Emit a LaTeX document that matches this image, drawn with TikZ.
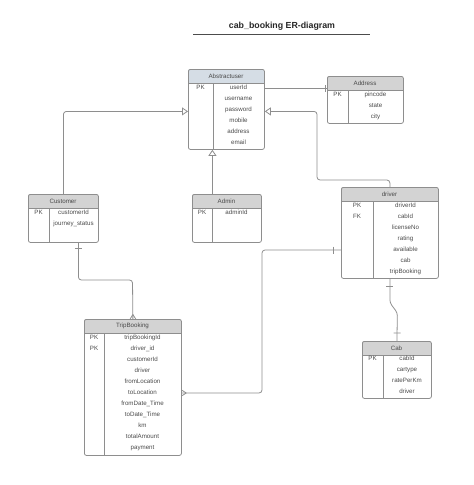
\documentclass[tikz,border=0pt]{standalone}
\usepackage{fontspec}
\setmainfont{Liberation Sans}
\usepackage{xcolor}
\usepackage{tikz}
\usetikzlibrary{calc, arrows.meta}
\usetikzlibrary{decorations.markings}
\definecolor{lnGray}{HTML}{8E8E8E}
\definecolor{txGray}{HTML}{4A4A4A}
\definecolor{hdGray}{HTML}{D3D3D3}
\definecolor{hdBlue}{HTML}{D5DDE5}
\tikzset{
  tbl/.style = {draw=lnGray, line width=0.8pt, rounded corners=2pt,
    inner sep=0pt, anchor=north west},% entity box
  tblline/.style = {draw=lnGray, line width=0.8pt},
  hdr/.style = {inner sep=0pt, text=txGray, font=\fontsize{6.2}{7}\selectfont},
  attr/.style = {inner sep=0pt, text=txGray, text height=4.6pt, text depth=1.3pt,
    font=\fontsize{6.2}{7}\selectfont},
  rel/.style = {draw=lnGray, line width=0.8pt, rounded corners=3pt},
  isa/.style = {-{Triangle[open, length=6pt, width=8pt]}},% inheritance
  onestart/.style = {postaction={decorate, decoration={markings,
    mark=at position #1 with {\draw[tblline] (0pt,-3.5pt) -- (0pt,3.5pt);}}}},
  oneend/.style = {postaction={decorate, decoration={markings,
    mark=at position -#1 with {\draw[tblline] (0pt,-3.5pt) -- (0pt,3.5pt);}}}},
  manyend/.style = {postaction={decorate, decoration={markings,
    mark=at position 1 with {\draw[tblline] (-4.5pt,0pt) -- (0pt,2.8pt)
      (-4.5pt,0pt) -- (0pt,-2.8pt);}}}}
}
% name, x, y, width, height, key column, title, header colour
\newcommand{\ertable}[8]{%
  \fill[#8] (#2,#3+14) [rounded corners=2pt] -- (#2,#3) -- (#2+#4,#3)
    [sharp corners] -- (#2+#4,#3+14) -- cycle;
  \node[tbl, minimum width=#4pt, minimum height=#5pt] (#1) at (#2,#3) {};
  \draw[tblline] (#2,#3+14) -- (#2+#4,#3+14);
  \draw[tblline] (#2+#6,#3+14) -- (#2+#6,#3+#5);
  \node[hdr] (#1-t) at (#2+#4/2,#3+7) {#7};
}

\begin{document}
\begin{tikzpicture}[x=1pt, y=-1pt]
\useasboundingbox (0,0) rectangle (474,485);

% title
\node[font=\fontsize{8.8}{10}\selectfont\bfseries, text=black!85] (title) at (282,26) {cab\_booking ER-diagram};
\draw[black!70, line width=0.8pt] (193,34) -- (370,34);

% entities
\ertable{abs}{188}{69}{76}{80}{25}{Abstractuser}{hdBlue}
\node[attr] at (200.5,88) {PK};
\foreach \a [count=\i from 0] in {userId, username, password, mobile, address, email}
  \node[attr] (abs-\i) at (238.5,88+11*\i) {\a};

\ertable{addr}{327}{76}{76}{47}{21}{Address}{hdGray}
\node[attr] at (337.5,95) {PK};
\foreach \a [count=\i from 0] in {pincode, state, city}
  \node[attr] (addr-\i) at (375.5,95+11*\i) {\a};

\ertable{cust}{28}{194}{70}{48}{21}{Customer}{hdGray}
\node[attr] at (38.5,213) {PK};
\foreach \a [count=\i from 0] in {customerId, journey\_status}
  \node[attr] (cust-\i) at (73.5,213+11*\i) {\a};

\ertable{adm}{192}{194}{69}{48}{20}{Admin}{hdGray}
\node[attr] at (202,213) {PK};
\node[attr] (adm-0) at (236.5,213) {adminId};

\ertable{drv}{341}{187}{97}{91}{32}{driver}{hdGray}
\node[attr] at (357,206) {PK};
\node[attr] at (357,217) {FK};
\foreach \a [count=\i from 0] in {driverId, cabId, licenseNo, rating, available, cab, tripBooking}
  \node[attr] (drv-\i) at (405.5,206+11*\i) {\a};

\ertable{trip}{84}{319}{97}{136}{20}{TripBooking}{hdGray}
\node[attr] at (94,338) {PK};
\node[attr] at (94,349) {PK};
\foreach \a [count=\i from 0] in {tripBookingId, driver\_id, customerId, driver, fromLocation,
    toLocation, fromDate\_Time, toDate\_Time, km, totalAmount, payment}
  \node[attr] (trip-\i) at (142.5,338+11*\i) {\a};

\ertable{cab}{362}{341}{69}{57}{21}{Cab}{hdGray}
\node[attr] at (372.5,359) {PK};
\foreach \a [count=\i from 0] in {cabId, cartype, ratePerKm, driver}
  \node[attr] (cab-\i) at (407,359+11*\i) {\a};

% inheritance
\draw[rel, isa] (cust.north) |- ([yshift=-2pt]abs.west);
\draw[rel, isa] ([xshift=-14.5pt]adm.north) -- ([xshift=-14.5pt]adm.north |- abs.south);
\draw[rel, isa] (drv.north) |- (317,180) |- ([yshift=-2pt]abs.east);

% relations
\draw[rel, oneend=2pt] (abs-0 -| abs.east) -- (abs-0 -| addr.west);
\draw[rel, onestart=6pt, manyend] ([xshift=15pt]cust.south) |- (132.5,280) -- (trip.north);
\draw[rel, onestart=8pt, manyend] (drv-4 -| drv.west) -| (262,393) -- (trip-5 -| trip.east);
\draw[rel, onestart=8pt, oneend=8pt] (drv.south) -- ++(0,24) -- ++(7.5,10) -- (cab.north);
\end{tikzpicture}
\end{document}
